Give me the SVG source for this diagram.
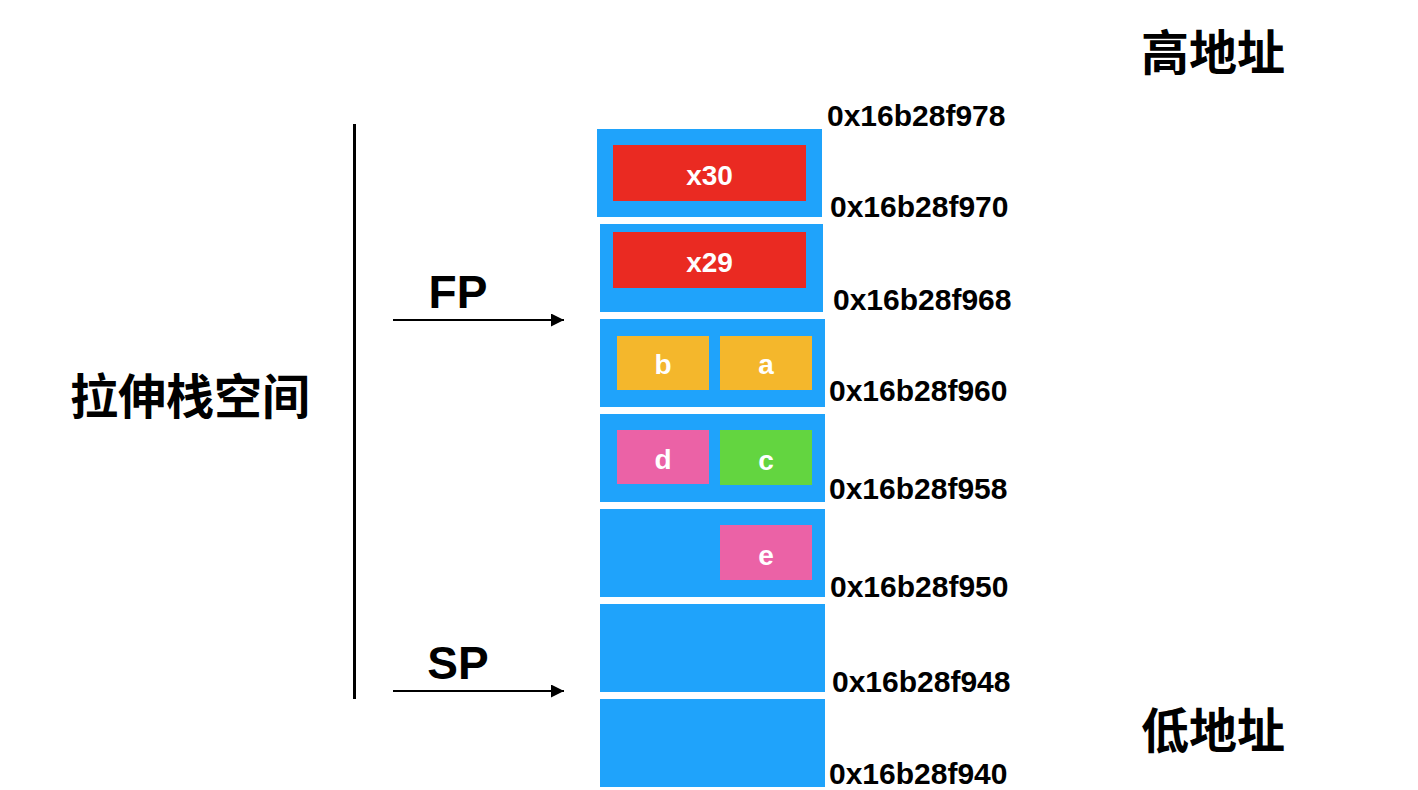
<svg xmlns="http://www.w3.org/2000/svg" width="1418" height="790" viewBox="0 0 1418 790">
<style>
.blk{fill:#1FA3FB}
.red{fill:#EA2A22}
.yel{fill:#F4B72C}
.pnk{fill:#EB62A6}
.grn{fill:#63D540}
.in{font-family:"Liberation Sans",Arial,sans-serif;font-weight:bold;font-size:28px;fill:#fff;text-anchor:middle}
.addr{font-family:"Liberation Sans",Arial,sans-serif;font-weight:bold;font-size:30px;fill:#000}
.reg{font-family:"Liberation Sans",Arial,sans-serif;font-weight:bold;font-size:46px;fill:#000;text-anchor:middle}
.cjk{font-family:"Liberation Sans","Noto Sans CJK SC",sans-serif;font-weight:bold;font-size:48px;fill:#000}
.conn{stroke:#000;stroke-width:2;fill:none}
</style>
<defs>
<marker id="ah" viewBox="0 0 10 10" refX="10" refY="5" markerWidth="8" markerHeight="6.5" markerUnits="strokeWidth" orient="auto">
<path d="M0,0 L10,5 L0,10 Z" fill="#000"/>
</marker>
</defs>
<rect width="1418" height="790" fill="#fff"/>
<g id="label-high"><text class="cjk" x="1141" y="70">高地址</text></g>
<g id="label-low"><text class="cjk" x="1141" y="748">低地址</text></g>
<g id="label-stretch"><text class="cjk" x="70" y="414">拉伸栈空间</text></g>
<g id="label-fp"><text class="reg" x="458" y="308">FP</text></g>
<g id="label-sp"><text class="reg" x="458" y="679">SP</text></g>
<g id="slot-970">
<rect class="blk" x="597" y="129" width="225" height="88"/>
<rect class="red" x="613" y="145" width="193" height="56"/>
<text class="in" x="709.5" y="185">x30</text>
</g>
<g id="slot-968">
<rect class="blk" x="600" y="224" width="223" height="88"/>
<rect class="red" x="613" y="232" width="193" height="56"/>
<text class="in" x="709.5" y="272">x29</text>
</g>
<g id="slot-960">
<rect class="blk" x="600" y="319" width="225" height="88"/>
<rect class="yel" x="617" y="336" width="92" height="54"/>
<rect class="yel" x="720" y="336" width="92" height="54"/>
<text class="in" x="663" y="374">b</text>
<text class="in" x="766" y="374">a</text>
</g>
<g id="slot-958">
<rect class="blk" x="600" y="414" width="225" height="88"/>
<rect class="pnk" x="617" y="430" width="92" height="54"/>
<rect class="grn" x="720" y="430" width="92" height="55"/>
<text class="in" x="663" y="469">d</text>
<text class="in" x="766" y="470">c</text>
</g>
<g id="slot-950">
<rect class="blk" x="600" y="509" width="225" height="88"/>
<rect class="pnk" x="720" y="525" width="92" height="55"/>
<text class="in" x="766" y="565">e</text>
</g>
<g id="slot-948"><rect class="blk" x="600" y="604" width="225" height="88"/></g>
<g id="slot-940"><rect class="blk" x="600" y="699" width="225" height="88"/></g>
<g id="addresses">
<text class="addr" x="827" y="126">0x16b28f978</text>
<text class="addr" x="830" y="217">0x16b28f970</text>
<text class="addr" x="833" y="310">0x16b28f968</text>
<text class="addr" x="829" y="401">0x16b28f960</text>
<text class="addr" x="829" y="499">0x16b28f958</text>
<text class="addr" x="830" y="597">0x16b28f950</text>
<text class="addr" x="832" y="692">0x16b28f948</text>
<text class="addr" x="829" y="784">0x16b28f940</text>
</g>
<g id="connectors">
<line x1="354.5" y1="124" x2="354.5" y2="699" stroke="#000" stroke-width="3"/>
<line class="conn" x1="393" y1="320" x2="564" y2="320" marker-end="url(#ah)"/>
<line class="conn" x1="393" y1="691" x2="564" y2="691" marker-end="url(#ah)"/>
</g>
</svg>
